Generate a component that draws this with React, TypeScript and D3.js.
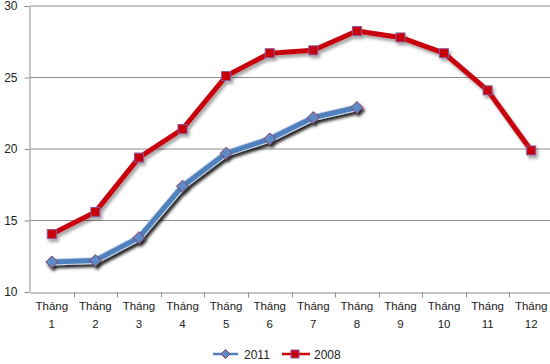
import { useEffect, useRef } from 'react';
import * as d3 from 'd3';

const months = ['1', '2', '3', '4', '5', '6', '7', '8', '9', '10', '11', '12'];
const values2011 = [12.1, 12.2, 13.8, 17.4, 19.7, 20.7, 22.2, 22.9];
const values2008 = [14.05, 15.6, 19.4, 21.4, 25.1, 26.7, 26.9, 28.25, 27.8, 26.7, 24.1, 19.9];
const yTicks = [10, 15, 20, 25, 30];

export default function App() {
  const ref = useRef<SVGSVGElement | null>(null);

  useEffect(() => {
    if (!ref.current) return;
    const width = 550;
    const height = 364;
    const svg = d3.select(ref.current);
    svg.selectAll('*').remove();
    svg.attr('width', width).attr('height', height);

    const font = '"Liberation Sans", Arial, sans-serif';
    const defs = svg.append('defs');
    defs
      .append('filter')
      .attr('id', 'shRed')
      .attr('x', '-10%')
      .attr('y', '-10%')
      .attr('width', '130%')
      .attr('height', '140%')
      .append('feDropShadow')
      .attr('dx', 2)
      .attr('dy', 3)
      .attr('stdDeviation', 1.6)
      .attr('flood-color', '#000')
      .attr('flood-opacity', 0.35);
    defs
      .append('filter')
      .attr('id', 'shBlue')
      .attr('x', '-10%')
      .attr('y', '-10%')
      .attr('width', '130%')
      .attr('height', '140%')
      .append('feDropShadow')
      .attr('dx', 2)
      .attr('dy', 3)
      .attr('stdDeviation', 1.4)
      .attr('flood-color', '#000')
      .attr('flood-opacity', 0.85);

    const x = d3.scaleBand<string>().domain(months).range([30, 553]);
    const y = d3.scaleLinear().domain([10, 30]).range([292, 6]);
    const cx = (i: number) => x(months[i])! + x.bandwidth() / 2;

    // gridlines
    svg
      .append('g')
      .selectAll('line')
      .data(yTicks.filter(t => t > 10))
      .join('line')
      .attr('x1', 30)
      .attr('x2', width)
      .attr('y1', d => y(d))
      .attr('y2', d => y(d))
      .attr('stroke', '#8c8c8c')
      .attr('stroke-width', 1);

    // y axis
    const yAxis = svg
      .append('g')
      .attr('transform', 'translate(29.5,0)')
      .call(d3.axisLeft(y).tickValues(yTicks).tickSize(5).tickSizeOuter(0).tickPadding(7));
    yAxis.select('.domain').attr('stroke', '#8c8c8c');
    yAxis.selectAll('.tick line').attr('stroke', '#8c8c8c');
    yAxis
      .selectAll('.tick text')
      .attr('fill', '#222')
      .style('font-family', font)
      .style('font-size', '12px');

    // x axis
    const xAxis = svg
      .append('g')
      .attr('transform', 'translate(0,292.5)')
      .call(d3.axisBottom(x).tickSize(0).tickSizeOuter(0).tickFormat(() => ''));
    xAxis.select('.domain').attr('stroke', '#8c8c8c');
    xAxis.selectAll('.tick').remove();
    xAxis
      .selectAll('line.sep')
      .data(months.slice(1))
      .join('line')
      .attr('class', 'sep')
      .attr('x1', d => Math.round(x(d)!) + 0.5)
      .attr('x2', d => Math.round(x(d)!) + 0.5)
      .attr('y1', 0)
      .attr('y2', 5)
      .attr('stroke', '#8c8c8c');

    const labels = svg.append('g').style('font-family', font).style('font-size', '11.5px').attr('fill', '#222');
    months.forEach((m, i) => {
      const t = labels.append('text').attr('text-anchor', 'middle');
      t.append('tspan').attr('x', cx(i)).attr('y', 310).text('Tháng');
      t.append('tspan').attr('x', cx(i)).attr('y', 328).text(m);
    });

    const line = d3
      .line<number>()
      .x((_, i) => cx(i))
      .y(d => y(d));

    const diamond = (s: number) => `M0,${-s}L${s},0L0,${s}L${-s},0Z`;

    // 2011
    const g2011 = svg.append('g').attr('filter', 'url(#shBlue)');
    g2011
      .append('path')
      .datum(values2011)
      .attr('fill', 'none')
      .attr('stroke', '#c9d6e8')
      .attr('stroke-width', 7)
      .attr('stroke-linejoin', 'round')
      .attr('d', line);
    g2011
      .append('path')
      .datum(values2011)
      .attr('fill', 'none')
      .attr('stroke', '#4f81bd')
      .attr('stroke-width', 5)
      .attr('stroke-linejoin', 'round')
      .attr('d', line);
    g2011
      .selectAll('path.mk')
      .data(values2011)
      .join('path')
      .attr('class', 'mk')
      .attr('transform', (d, i) => `translate(${cx(i)},${y(d)})`)
      .attr('d', diamond(6))
      .attr('fill', '#5b8bc8')
      .attr('stroke', '#8e3a5e')
      .attr('stroke-width', 1);

    // 2008
    const g2008 = svg.append('g').attr('filter', 'url(#shRed)');
    g2008
      .append('path')
      .datum(values2008)
      .attr('fill', 'none')
      .attr('stroke', '#c8000a')
      .attr('stroke-width', 5)
      .attr('stroke-linejoin', 'round')
      .attr('d', line);
    g2008
      .selectAll('rect')
      .data(values2008)
      .join('rect')
      .attr('x', (_, i) => cx(i) - 4.5)
      .attr('y', d => y(d) - 4.5)
      .attr('width', 9)
      .attr('height', 9)
      .attr('fill', '#c8000a')
      .attr('stroke', '#8a5a9a')
      .attr('stroke-width', 1);

    // legend
    const lg = svg.append('g').style('font-family', font).style('font-size', '12px').attr('fill', '#222');
    lg.append('line').attr('x1', 213).attr('x2', 238).attr('y1', 354).attr('y2', 354).attr('stroke', '#4f81bd').attr('stroke-width', 2.5);
    lg.append('path').attr('transform', 'translate(225.5,354)').attr('d', diamond(4.5)).attr('fill', '#5b8bc8').attr('stroke', '#8e3a5e');
    lg.append('text').attr('x', 244).attr('y', 358.5).text('2011');
    lg.append('line').attr('x1', 282).attr('x2', 310).attr('y1', 354).attr('y2', 354).attr('stroke', '#c8000a').attr('stroke-width', 2.5);
    lg.append('rect').attr('x', 291).attr('y', 350).attr('width', 8).attr('height', 8).attr('fill', '#c8000a').attr('stroke', '#8a5a9a');
    lg.append('text').attr('x', 314).attr('y', 358.5).text('2008');
  }, []);

  return <svg ref={ref} style={{ position: 'absolute', left: 0, top: 0, display: 'block' }} />;
}
